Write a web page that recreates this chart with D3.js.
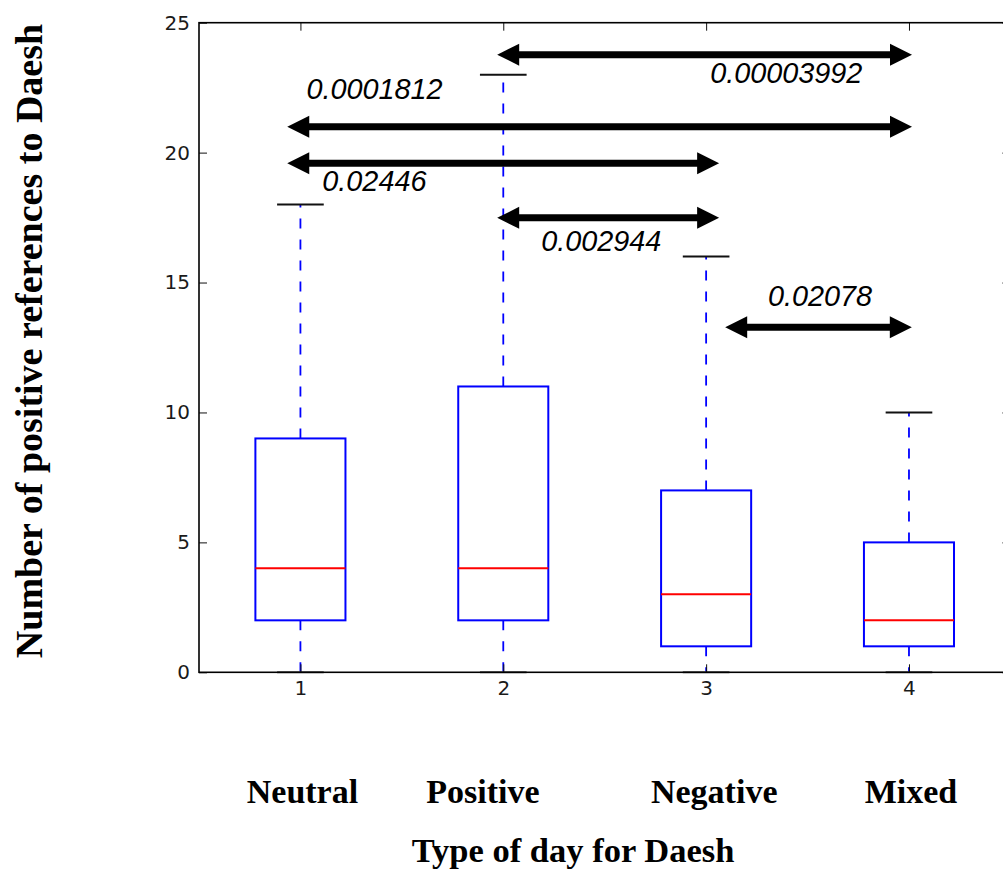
<!DOCTYPE html>
<html>
<head>
<meta charset="utf-8">
<script src="https://cdn.jsdelivr.net/npm/d3@7"></script>
<style>
  body { margin: 0; background: #fff; }
</style>
</head>
<body>
<svg id="canvas" width="1003" height="872"></svg>
<script>
// box plot values, one entry per type of day
const groups = [1, 2, 3, 4];
const mins = [0, 0, 0, 0];
const q1s = [2, 2, 1, 1];
const medians = [4, 4, 3, 2];
const q3s = [9, 11, 7, 5];
const maxs = [18, 23, 16, 10];

const yTicks = [0, 5, 10, 15, 20, 25];

// category names under the axis, centred at these x values
const categoryNames = ["Neutral", "Positive", "Negative", "Mixed"];
const categoryAt = [1.01, 1.9, 3.04, 4.01];

// p-value arrows (data units) and their labels
const arrowFrom = [1.97, 0.935, 0.935, 1.97, 3.094];
const arrowTo = [4.015, 4.015, 3.064, 3.064, 4.014];
const arrowY = [23.77, 21.0, 19.59, 17.49, 13.28];

const pLabels = ["0.00003992", "0.0001812", "0.02446", "0.002944", "0.02078"];
const pLabelX = [3.02, 1.03, 1.108, 2.187, 3.305];
const pLabelY = [22.69, 22.08, 18.54, 16.23, 14.08];

let canvas = d3.select("#canvas");

let x = d3.scaleLinear().domain([0.5, 4.5]).range([199, 1010.4]);
let y = d3.scaleLinear().domain([0, 25]).range([672.3, 22.7]);

const boxHalf = 0.222;   // half box width in x units
const capHalf = 0.115;
const tickFont = "'DejaVu Sans', sans-serif";
const serif = "'Liberation Serif', 'Times New Roman', serif";

let boxes = groups.map((g, i) => ({
    g: g, min: mins[i], q1: q1s[i], med: medians[i], q3: q3s[i], max: maxs[i]
}));

// whiskers (dashes start at the box edge)
let drawWhiskers = () => {
    let w = canvas.append("g");
    boxes.forEach((b) => {
        [[b.q3, b.max], [b.q1, b.min]].forEach((seg) => {
            w.append("line")
                .attr("x1", x(b.g)).attr("x2", x(b.g))
                .attr("y1", y(seg[0])).attr("y2", y(seg[1]))
                .attr("stroke", "#0000ff").attr("stroke-width", 1.8)
                .attr("stroke-dasharray", "10,11");
        });
    });
};

let drawBoxes = () => {
    let g = canvas.append("g");
    g.selectAll("rect")
        .data(boxes)
        .enter()
        .append("rect")
        .attr("x", (b) => x(b.g - boxHalf))
        .attr("width", (b) => x(b.g + boxHalf) - x(b.g - boxHalf))
        .attr("y", (b) => y(b.q3))
        .attr("height", (b) => y(b.q1) - y(b.q3))
        .attr("fill", "none")
        .attr("stroke", "#0000ff")
        .attr("stroke-width", 2);

    g.selectAll(".median")
        .data(boxes)
        .enter()
        .append("line")
        .attr("class", "median")
        .attr("x1", (b) => x(b.g - boxHalf))
        .attr("x2", (b) => x(b.g + boxHalf))
        .attr("y1", (b) => y(b.med))
        .attr("y2", (b) => y(b.med))
        .attr("stroke", "#ff0000")
        .attr("stroke-width", 2);

    // caps
    ["min", "max"].forEach((k) => {
        g.selectAll(".cap-" + k)
            .data(boxes)
            .enter()
            .append("line")
            .attr("x1", (b) => x(b.g - capHalf))
            .attr("x2", (b) => x(b.g + capHalf))
            .attr("y1", (b) => y(b[k]))
            .attr("y2", (b) => y(b[k]))
            .attr("stroke", k === "min" ? "#555" : "#111")
            .attr("stroke-width", 2);
    });
};

let drawAxes = () => {
    let yAxis = canvas.append("g")
        .attr("transform", "translate(" + x(0.5) + ",0)")
        .call(d3.axisLeft(y).tickValues(yTicks).tickSizeInner(-8).tickSizeOuter(0).tickPadding(9));
    canvas.append("g")
        .attr("transform", "translate(" + x(4.5) + ",0)")
        .call(d3.axisRight(y).tickValues(yTicks).tickSizeInner(-8).tickSizeOuter(0).tickFormat(""));
    let xAxis = canvas.append("g")
        .attr("transform", "translate(0," + y(0) + ")")
        .call(d3.axisBottom(x).tickValues(groups).tickFormat(d3.format("d"))
            .tickSizeInner(-8).tickSizeOuter(0).tickPadding(9));
    canvas.append("g")
        .attr("transform", "translate(0," + y(25) + ")")
        .call(d3.axisTop(x).tickValues(groups).tickSizeInner(-8).tickSizeOuter(0).tickFormat(""));

    canvas.selectAll(".domain").remove();
    canvas.selectAll(".tick line").attr("stroke", "#111").attr("stroke-width", 1);
    [yAxis, xAxis].forEach((a) => {
        a.attr("font-family", tickFont).attr("font-size", 20);
        a.selectAll("text").attr("fill", "#1a1a1a");
    });

    // frame
    canvas.append("rect")
        .attr("x", x(0.5)).attr("y", y(25))
        .attr("width", x(4.5) - x(0.5))
        .attr("height", y(0) - y(25))
        .attr("fill", "none")
        .attr("stroke", "#000")
        .attr("stroke-width", 1.6);
};

let drawArrows = () => {
    let a = canvas.append("g");
    const head = 22, halfH = 11;
    arrowY.forEach((v, i) => {
        let x1 = x(arrowFrom[i]), x2 = x(arrowTo[i]), yy = y(v);
        a.append("line")
            .attr("x1", x1 + head - 2).attr("x2", x2 - head + 2)
            .attr("y1", yy).attr("y2", yy)
            .attr("stroke", "#000").attr("stroke-width", 7);
        a.append("path")
            .attr("d", "M" + x1 + "," + yy + "L" + (x1 + head) + "," + (yy - halfH) + "L" + (x1 + head) + "," + (yy + halfH) + "Z")
            .attr("fill", "#000");
        a.append("path")
            .attr("d", "M" + x2 + "," + yy + "L" + (x2 - head) + "," + (yy - halfH) + "L" + (x2 - head) + "," + (yy + halfH) + "Z")
            .attr("fill", "#000");
    });

    canvas.append("g").selectAll("text")
        .data(pLabels)
        .enter()
        .append("text")
        .attr("x", (d, i) => x(pLabelX[i]))
        .attr("y", (d, i) => y(pLabelY[i]))
        .attr("font-family", "'Liberation Sans', Arial, sans-serif")
        .attr("font-style", "italic")
        .attr("font-size", 28.8)
        .attr("fill", "#000")
        .text((d) => d);
};

let drawLabels = () => {
    canvas.append("g").selectAll("text")
        .data(categoryNames)
        .enter()
        .append("text")
        .attr("x", (d, i) => x(categoryAt[i]))
        .attr("y", 803)
        .attr("text-anchor", "middle")
        .attr("font-family", serif)
        .attr("font-weight", "bold")
        .attr("font-size", 34)
        .text((d) => d);

    canvas.append("text")
        .attr("x", 573)
        .attr("y", 862)
        .attr("text-anchor", "middle")
        .attr("font-family", serif)
        .attr("font-weight", "bold")
        .attr("font-size", 34.5)
        .text("Type of day for Daesh");

    canvas.append("text")
        .attr("transform", "translate(42,341) rotate(-90)")
        .attr("text-anchor", "middle")
        .attr("font-family", serif)
        .attr("font-weight", "bold")
        .attr("font-size", 38)
        .text("Number of positive references to Daesh");
};

drawWhiskers();
drawBoxes();
drawAxes();
drawArrows();
drawLabels();
</script>
</body>
</html>
